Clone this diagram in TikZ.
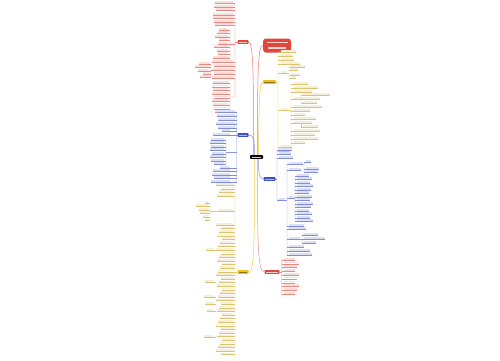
\documentclass[tikz,border=0pt]{standalone}
\definecolor{rc}{HTML}{E0483E}
\definecolor{bc}{HTML}{3F51C4}
\definecolor{yc}{HTML}{EDC21E}
\definecolor{yl}{HTML}{C9A227}
\newcommand{\lfL}[5]{\fill[#4!18] (#1,#3-2.1) rectangle (#2,#3-0.5); \draw[#4!65,line width=.25pt] (#1,#3) -- (#5,#3);}
\newcommand{\lfR}[5]{\fill[#4!18] (#1,#3-2.1) rectangle (#2,#3-0.5); \draw[#4!65,line width=.25pt] (#5,#3) -- (#2,#3);}
\tikzset{
  mn/.style={inner sep=0pt, minimum height=3.6pt, rounded corners=0.6pt},
  conn/.style={line width=0.5pt},
  brk/.style={line width=0.3pt}
}
\begin{document}
\begin{tikzpicture}[x=1pt,y=-1pt]
\useasboundingbox (0,0) rectangle (500,360);
\fill[white] (0,0) rectangle (500,360);

% ---------- main nodes ----------
\node[mn, fill=black, minimum width=13pt] (c) at (256.5,157) {};
\node[mn, fill=rc, minimum width=11pt] (lr) at (243,42) {};
\node[fill=rc, rounded corners=3pt, minimum width=28pt, minimum height=14pt, inner sep=0pt] (title) at (277,45.5) {};
\node[mn, fill=yc, minimum width=13pt] (ry) at (269.5,82) {};
\node[mn, fill=bc, minimum width=11pt] (lb) at (243,135) {};
\node[mn, fill=bc, minimum width=12pt] (rb) at (269.5,179) {};
\node[mn, fill=yc, minimum width=11pt] (ly) at (243,272) {};
\node[mn, fill=rc, minimum width=15pt] (rr) at (272,272) {};

% inner text marks
\draw[white!80!black, line width=0.6pt] ([xshift=2pt]c.west) -- ([xshift=-2pt]c.east);
\draw[white!70!rc, line width=0.6pt] ([xshift=1.5pt]lr.west) -- ([xshift=-1.5pt]lr.east);
\draw[white!70!rc, line width=0.6pt] ([xshift=1.5pt]rr.west) -- ([xshift=-1.5pt]rr.east);
\draw[white!60!bc, line width=0.6pt] ([xshift=1.5pt]lb.west) -- ([xshift=-1.5pt]lb.east);
\draw[white!60!bc, line width=0.6pt] ([xshift=1.5pt]rb.west) -- ([xshift=-1.5pt]rb.east);
\draw[yc!60!black, line width=0.6pt] ([xshift=1.5pt]ry.west) -- ([xshift=-1.5pt]ry.east);
\draw[yc!60!black, line width=0.6pt] ([xshift=1.5pt]ly.west) -- ([xshift=-1.5pt]ly.east);
\fill[white!75!rc] (266.5,41.5) rectangle (287.5,42.9);
\fill[white!75!rc] (268,47.1) rectangle (286,48.5);

% ---------- main connectors ----------
\draw[conn, rc!75] ([xshift=-3pt]c.north) .. controls (253.5,80) and (253.5,42) .. (lr.east);
\draw[conn, rc!75] ([xshift=1pt]c.north) .. controls (257.5,80) and (257.5,45.5) .. (title.west);
\draw[conn, yc!85] ([xshift=2pt]c.north) .. controls (259,110) and (259,82) .. (ry.west);
\draw[conn, bc!60] ([xshift=-2pt]c.north) .. controls (254.5,140) and (254,135) .. (lb.east);
\draw[conn, bc!60] ([xshift=2pt]c.south) .. controls (258.5,172) and (259,179) .. (rb.west);
\draw[conn, yc!85] ([xshift=-2pt]c.south) .. controls (254.5,240) and (254.5,272) .. (ly.east);
\draw[conn, rc!60] ([xshift=1pt]c.south) .. controls (257.5,240) and (257.5,272) .. (rr.west);

% ================= LEFT RED =================
\draw[brk, rc!70] (lr.west) -- (235,42);
\draw[brk, rc!70, rounded corners=1pt] (233,3.5) -- (235,3.5) -- (235,97) -- (230,97);
\foreach \a/\b/\y in {215/233/3.5,214/233/7,216/233/10.5,213/233/15,213/233/18.5,214/233/22,215/233/25.5,
                      212/233/62,214/233/66,213/233/70,214/233/74,212/233/78}
  {\lfL{\a}{\b}{\y}{rc}{235}}
\draw[brk, rc!70, rounded corners=1pt] (228,30) -- (230,30) -- (230,58) -- (228,58);
\draw[brk, rc!70] (230,44) -- (235,44);
\foreach \a/\y in {219/30,217/33.5,215/37,219/40.5,218/44,214/47.5,217/51,218/54.5,213/58}
  {\lfL{\a}{228}{\y}{rc}{230}}
\draw[brk, rc!70, rounded corners=1pt] (209,64) -- (211,64) -- (211,77) -- (209,77);
\draw[brk, rc!70] (211,70) -- (213,70);
\foreach \a/\y in {199/64,195/67.5,198/71,203/74.5,200/77}
  {\lfL{\a}{209}{\y}{rc}{211}}
\draw[brk, rc!70, rounded corners=1pt] (228,83) -- (230,83) -- (230,112) -- (228,112);
\foreach \a/\y in {213/83,212/86.7,213/90.4,212/94,214/97.7,212/101.4,213/105,214/108.7,215/112}
  {\lfL{\a}{228}{\y}{rc}{230}}

% ================= LEFT BLUE =================
\draw[brk, bc!60] (lb.west) -- (236.5,135);
\draw[brk, bc!60, rounded corners=1pt] (235,112) -- (236.5,112) -- (236.5,182) -- (230,182);
\foreach \a/\b/\y in {218/235/112,217/235/116,218/235/120,216/235/124,218/235/128,
                      222/230/131.5,213/230/135,220/230/168,213/230/171.5,212/230/175,214/230/178.5,211/230/182}
  {\lfL{\a}{\b}{\y}{bc}{236.5}}
\draw[brk, bc!60, rounded corners=1pt] (224,140) -- (226,140) -- (226,164.5) -- (224,164.5);
\draw[brk, bc!60] (226,152) -- (236.5,152);
\foreach \a/\y in {211/140,210/143.5,211/147,210/150.5,212/154,210/157.5,211/161,214/164.5}
  {\lfL{\a}{224}{\y}{bc}{226}}

% ================= LEFT YELLOW =================
\draw[brk, yc!80] (ly.west) -- (235,272);
\draw[brk, yc!80, rounded corners=1pt] (233,185) -- (235,185) -- (235,357) -- (233,357);
\foreach \i in {0,...,3} {
  \pgfmathsetmacro\yy{185+3.7*\i}
  \pgfmathsetmacro\xa{216+mod(\i*5,7)}
  \lfL{\xa}{233}{\yy}{yl}{235}
}
\lfL{218}{233}{211}{yl}{235}
\draw[brk, yc!80, rounded corners=1pt] (208,203) -- (210,203) -- (210,220) -- (208,220);
\draw[brk, yc!80] (210,211) -- (218,211);
\foreach \a/\y in {205/203,196/206.5,199/210,200/213.5,203/217,205/220}
  {\lfL{\a}{208}{\y}{yl}{210}}
\foreach \i in {0,...,36} {
  \pgfmathsetmacro\yy{225+3.6*\i}
  \pgfmathsetmacro\xa{216+mod(\i*5,7)}
  \lfL{\xa}{233}{\yy}{yl}{235}
}
\foreach \a/\y in {206/250,205/282,204/297,205/304,207/311,204/337}
  {\lfL{\a}{214}{\y}{yl}{216}}

% ================= RIGHT YELLOW =================
\draw[brk, yc!80] (ry.east) -- (278,82);
\draw[brk, yc!80, rounded corners=1pt] (281,52) -- (278,52) -- (278,151) -- (281,151);
\foreach \a/\b/\y in {281/296/52,281/293/56,281/294/60,281/300/64,281/287/73,281/288/110,281/292/147,281/290/151}
  {\lfR{\a}{\b}{\y}{yl}{278}}
\draw[brk, yc!80, rounded corners=1pt] (291,67) -- (289,67) -- (289,78.5) -- (291,78.5);
\draw[brk, yc!80] (287,73) -- (289,73);
\foreach \a/\b/\y in {291/305/67,291/298/70.5,291/300/75,291/296/78.5}
  {\lfR{\a}{\b}{\y}{yl}{289}}
\draw[brk, yc!80, rounded corners=1pt] (294,84) -- (291,84) -- (291,143) -- (294,143);
\draw[brk, yc!80] (288,110) -- (291,110);
\foreach \a/\b/\y in {294/308/84,294/318/88,294/312/92,294/320/99,294/322/107,294/310/111,294/305/115,
                      294/316/119,294/312/123,294/320/131,294/315/135,294/318/139,294/305/143}
  {\lfR{\a}{\b}{\y}{yl}{291}}
\draw[brk, yc!80, rounded corners=1pt] (302,93) -- (301,93) -- (301,103) -- (302,103);
\foreach \a/\b/\y in {303/330/95.5,303/317/103}
  {\lfR{\a}{\b}{\y}{yl}{301}}
\lfR{303}{318}{127}{yl}{301}
\draw[brk, yc!80] (301,123) -- (301,127);

% ================= RIGHT BLUE =================
\draw[brk, bc!60] (rb.east) -- (277,179);
\draw[brk, bc!60, rounded corners=1pt] (279,150) -- (277,150) -- (277,200) -- (279,200);
\foreach \a/\b/\y in {279/292/150,279/291/154,279/293/158.5,279/285/200}
  {\lfR{\a}{\b}{\y}{bc}{277}}
\draw[brk, bc!60, rounded corners=1pt] (289,164) -- (287,164) -- (287,255) -- (289,255);
\draw[brk, bc!60] (285,200) -- (287,200);
\foreach \a/\b/\y in {289/303/164,289/301/170,289/294/198,289/304/226,289/306/229.5,289/300/239,289/304/247,289/310/251,289/312/255}
  {\lfR{\a}{\b}{\y}{bc}{287}}
\draw[brk, bc!60, rounded corners=1pt] (306,162.5) -- (304,162.5) -- (304,172.5) -- (306,172.5);
\foreach \a/\b/\y in {306/311/162.5,306/319/169,306/318/172.5}
  {\lfR{\a}{\b}{\y}{bc}{304}}
\draw[brk, bc!60, rounded corners=1pt] (297,176) -- (295,176) -- (295,221.5) -- (297,221.5);
\draw[brk, bc!60] (294,198) -- (295,198);
\foreach \i in {0,...,13} {
  \pgfmathsetmacro\yy{176+3.5*\i}
  \pgfmathsetmacro\xb{309+mod(\i*3,5)}
  \lfR{297}{\xb}{\yy}{bc}{295}
}
\draw[brk, bc!60, rounded corners=1pt] (304,235) -- (302,235) -- (302,243) -- (304,243);
\draw[brk, bc!60] (300,239) -- (302,239);
\foreach \a/\b/\y in {304/318/235,304/325/239,304/316/243}
  {\lfR{\a}{\b}{\y}{bc}{302}}

% ================= RIGHT RED =================
\draw[brk, rc!60] (rr.east) -- (281.5,272);
\draw[brk, rc!60, rounded corners=1pt] (284,260) -- (281.5,260) -- (281.5,294) -- (284,294);
\foreach \i in {0,...,9} {
  \pgfmathsetmacro\yy{260+3.78*\i}
  \pgfmathsetmacro\xb{295+mod(\i*4,6)}
  \lfR{284}{\xb}{\yy}{rc}{281.5}
}
\end{tikzpicture}
\end{document}
